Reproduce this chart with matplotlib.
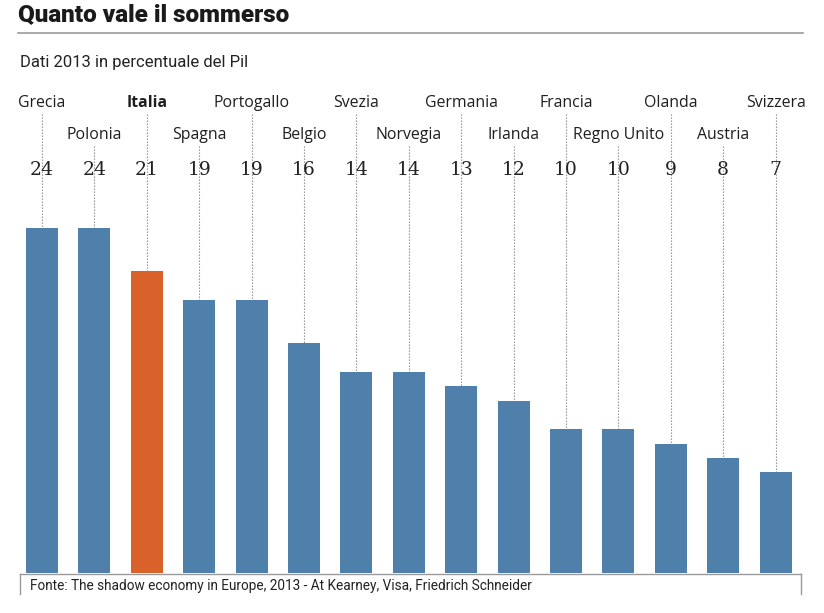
import matplotlib

matplotlib.use("Agg")
import matplotlib.pyplot as plt
from matplotlib import transforms
from matplotlib.lines import Line2D

# data: shadow economy, % of GDP, 2013
countries = ["Grecia", "Polonia", "Italia", "Spagna", "Portogallo", "Belgio", "Svezia",
             "Norvegia", "Germania", "Irlanda", "Francia", "Regno Unito", "Olanda",
             "Austria", "Svizzera"]
values = [24, 24, 21, 19, 19, 16, 14, 14, 13, 12, 10, 10, 9, 8, 7]
highlight = "Italia"

BLUE = "#4f80ac"
ORANGE = "#d9622a"
GRAY = "#8a8a8a"
W, H = 824, 613


def fy(px):
    """pixel row from top -> figure fraction"""
    return 1 - px / H


fig = plt.figure(figsize=(W / 100, H / 100), dpi=100)
fig.patch.set_facecolor("white")

ax = fig.add_axes([15.8 / W, fy(573), 786 / W, (573 - 228) / H])
colors = [ORANGE if c == highlight else BLUE for c in countries]
ax.bar(range(len(values)), values, width=0.61, color=colors, zorder=2)
ax.set_xlim(-0.5, len(values) - 0.5)
ax.set_ylim(0, 24)
ax.axis("off")

trans = transforms.blended_transform_factory(ax.transData, fig.transFigure)
label_font = ["Open Sans", "DejaVu Sans"]
for i, (name, val) in enumerate(zip(countries, values)):
    upper = i % 2 == 0
    label_y = 103 if upper else 135
    line_top = 114 if upper else 146
    ax.text(i, fy(label_y), name, transform=trans, ha="center", va="center",
            fontsize=11.4, family=label_font, color="#1e1e1e",
            fontweight="bold" if name == highlight else "normal")
    # dotted leader from label down to the bar top
    bar_top = ax.transData.transform((i, val))[1] / fig.dpi / fig.get_figheight()
    ax.add_line(Line2D([i, i], [fy(line_top), bar_top], transform=trans, color=GRAY,
                       lw=0.8, ls=(0, (1.2, 1.5)), zorder=1, clip_on=False))
    ax.text(i, fy(168), str(val), transform=trans, ha="center", va="center_baseline",
            fontsize=13.5, family="DejaVu Serif", color="#222222", zorder=3)

# title block
title_font = ["Roboto", "DejaVu Sans"]
fig.text(18 / W, fy(15), "Quanto vale il sommerso", ha="left", va="center",
         fontsize=17.5, fontweight="heavy", family=title_font, color="#1a1a1a")
fig.add_artist(Line2D([18 / W, 803 / W], [fy(33), fy(33)], color="#999999", lw=1.2))
fig.text(20 / W, fy(63), "Dati 2013 in percentuale del Pil", ha="left", va="center",
         fontsize=12, family=title_font, color="#222222")

# footer frame and source
fig.add_artist(Line2D([20 / W, 801 / W], [fy(573.5), fy(573.5)], color="#999999", lw=1))
fig.add_artist(Line2D([20 / W, 20 / W], [fy(573.5), fy(594)], color="#999999", lw=1))
fig.add_artist(Line2D([801 / W, 801 / W], [fy(573.5), fy(594)], color="#999999", lw=1))
fig.text(30 / W, fy(586), "Fonte: The shadow economy in Europe, 2013 - At Kearney, Visa, "
         "Friedrich Schneider", ha="left", va="center", fontsize=9.8,
         family=title_font, color="#222222")

fig.savefig("out.png", dpi=100)
